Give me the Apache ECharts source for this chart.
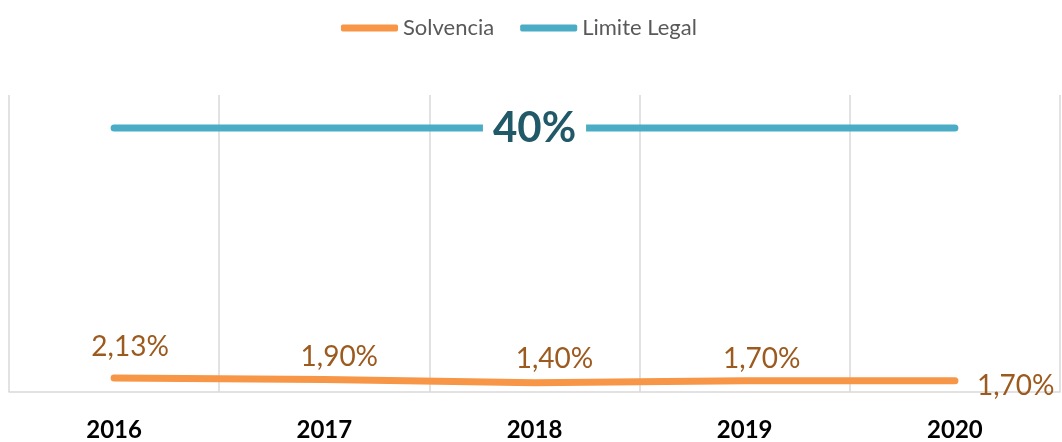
<!DOCTYPE html>
<html>
<head>
<meta charset="utf-8">
<script src="https://cdn.jsdelivr.net/npm/echarts@6/dist/echarts.min.js"></script>
<style>
  html, body { margin: 0; padding: 0; background: #fff; }
  #chart { width: 1062px; height: 442px; }
</style>
</head>
<body>
<div id="chart"></div>
<script>
// data
const years = ['2016', '2017', '2018', '2019', '2020']
const solvencia = [2.13, 1.90, 1.40, 1.70, 1.70]
const limiteLegal = [40, 40, 40, 40, 40]

// label placement per point (offsets in px)
const solvOffsets = [[16, -5], [15, 4], [20, 2], [17, 4], [0, 0]]

const fmt = v => (Number.isInteger(v) ? String(v) : v.toFixed(2).replace('.', ',')) + '%'

const chart = echarts.init(document.getElementById('chart'))

const option = {
  animation: false,
  textStyle: { fontFamily: 'Lato, "Open Sans", sans-serif' },
  legend: {
    top: 12,
    left: 336,
    itemWidth: 57,
    itemHeight: 7,
    itemGap: 26,
    icon: 'roundRect',
    textStyle: { fontSize: 22, color: '#595959' },
    data: ['Solvencia', 'Limite Legal']
  },
  grid: { left: 9, right: 2, top: 95, bottom: 49 },
  xAxis: {
    type: 'category',
    data: years,
    boundaryGap: true,
    axisLine: { lineStyle: { color: '#D9D9D9', width: 1.5 } },
    axisTick: { show: false },
    axisLabel: { fontSize: 24, fontWeight: 'bold', color: '#000', margin: 26 },
    splitLine: { show: true, lineStyle: { color: '#D9D9D9', width: 1.5 } }
  },
  yAxis: {
    type: 'value',
    min: 0,
    max: 45,
    show: false,
    splitLine: { show: false }
  },
  series: [
    {
      name: 'Solvencia',
      type: 'line',
      data: solvencia.map((v, i) => ({
        value: v,
        label: i === 4
          ? { position: 'right', distance: 18, offset: [4, 5] }
          : { position: 'top', distance: 12, offset: solvOffsets[i] }
      })),
      symbol: 'circle',
      symbolSize: 0.1,
      showSymbol: true,
      color: '#F79646',
      lineStyle: { width: 7, cap: 'round', color: '#F79646' },
      label: {
        show: true,
        fontSize: 28,
        color: '#9C5A1E',
        formatter: p => fmt(p.value)
      },
      z: 3
    },
    {
      name: 'Limite Legal',
      type: 'line',
      data: limiteLegal.map((v, i) => ({
        value: v,
        label: { show: i === 2 }
      })),
      symbol: 'circle',
      symbolSize: 0.1,
      showSymbol: true,
      color: '#4BACC6',
      lineStyle: { width: 7, cap: 'round', color: '#4BACC6' },
      label: {
        position: 'inside',
        fontSize: 42,
        fontWeight: 'bold',
        color: '#215968',
        backgroundColor: '#fff',
        padding: [2, 10],
        formatter: p => fmt(p.value)
      },
      z: 3
    }
  ]
}

chart.setOption(option)
</script>
</body>
</html>
